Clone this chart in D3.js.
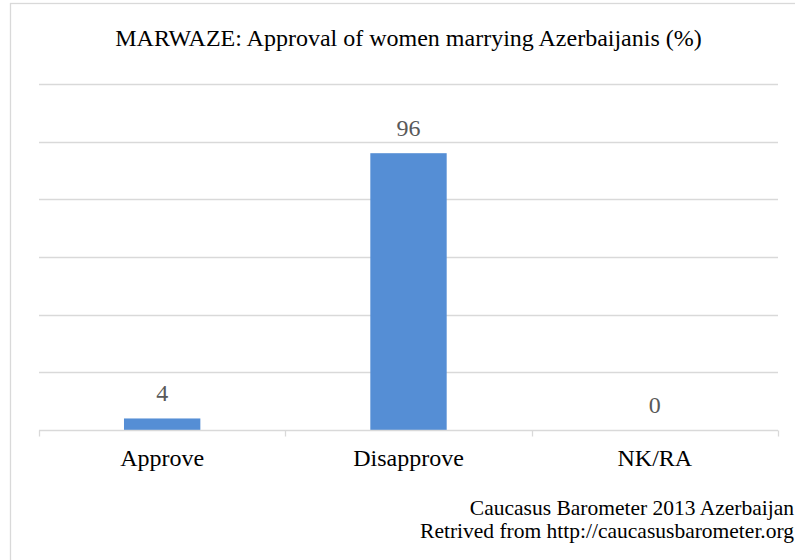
<!DOCTYPE html>
<html>
<head>
<meta charset="utf-8">
<script src="https://cdn.jsdelivr.net/npm/d3@7"></script>
<style>
  body { margin: 0; background: #fff; }
</style>
</head>
<body>
<div id="chart"></div>
<script>
// data
const categories = ["Approve", "Disapprove", "NK/RA"];
const values = [4, 96, 0];
const gridTicks = [0, 20, 40, 60, 80, 100, 120];
const title = "MARWAZE: Approval of women marrying Azerbaijanis (%)";
const sourceLines = ["Caucasus Barometer 2013 Azerbaijan", "Retrived from http://caucasusbarometer.org"];

const width = 795, height = 560;
const margin = { left: 39, right: 17, top: 84, bottom: 130 };
const font = "'Liberation Serif'";

const svg = d3.select("#chart")
    .append("svg")
    .attr("width", width)
    .attr("height", height)
    .style("display", "block");

// outer chart frame (only left + top edges visible in the crop)
svg.append("rect")
    .attr("x", 10.5)
    .attr("y", 3.5)
    .attr("width", 900)
    .attr("height", 700)
    .attr("fill", "#fff")
    .attr("stroke", "#d9d9d9")
    .attr("stroke-width", 1.3);

const x = d3.scaleBand()
    .domain(categories)
    .range([margin.left, width - margin.right])
    .paddingInner(0.69)
    .paddingOuter(0.345);

const y = d3.scaleLinear()
    .domain([0, 120])
    .range([430, margin.top]);

// gridlines
svg.append("g")
    .selectAll("line")
    .data(gridTicks.slice(1))
    .join("line")
    .attr("x1", margin.left)
    .attr("x2", width - margin.right)
    .attr("y1", d => Math.round(y(d)) + 0.5)
    .attr("y2", d => Math.round(y(d)) + 0.5)
    .attr("stroke", "#d9d9d9")
    .attr("stroke-width", 1.3);

// bars
svg.append("g")
    .selectAll("rect")
    .data(values)
    .join("rect")
    .attr("x", (d, i) => x(categories[i]))
    .attr("width", x.bandwidth())
    .attr("y", d => y(d))
    .attr("height", d => y(0) - y(d))
    .attr("fill", "#558ed5");

// x axis: baseline with ticks at the category boundaries
const step = x.step();
const edges = d3.range(categories.length + 1).map(i => margin.left + i * step);
const axis = svg.append("g").attr("transform", "translate(0," + (Math.round(y(0)) + 0.5) + ")");
axis.append("line")
    .attr("x1", margin.left)
    .attr("x2", width - margin.right)
    .attr("stroke", "#d9d9d9")
    .attr("stroke-width", 1.3);
axis.selectAll(".tick")
    .data(edges)
    .join("line")
    .attr("class", "tick")
    .attr("x1", d => Math.round(d) + 0.5)
    .attr("x2", d => Math.round(d) + 0.5)
    .attr("y1", 0)
    .attr("y2", 6)
    .attr("stroke", "#d9d9d9")
    .attr("stroke-width", 1.3);

// category labels
svg.append("g")
    .selectAll("text")
    .data(categories)
    .join("text")
    .attr("x", d => x(d) + x.bandwidth() / 2)
    .attr("y", 466)
    .attr("text-anchor", "middle")
    .style("font-family", font)
    .style("font-size", "24px")
    .attr("fill", "#000")
    .text(d => d);

// value labels
svg.append("g")
    .selectAll("text")
    .data(values)
    .join("text")
    .attr("x", (d, i) => x(categories[i]) + x.bandwidth() / 2)
    .attr("y", d => y(d) - 17)
    .attr("text-anchor", "middle")
    .style("font-family", font)
    .style("font-size", "24px")
    .attr("fill", "#595959")
    .text(d => d);

// title
svg.append("text")
    .attr("x", (margin.left + width - margin.right) / 2)
    .attr("y", 46)
    .attr("text-anchor", "middle")
    .style("font-family", font)
    .style("font-size", "24px")
    .attr("fill", "#000")
    .text(title);

// source note
svg.append("g")
    .selectAll("text")
    .data(sourceLines)
    .join("text")
    .attr("x", 794)
    .attr("y", (d, i) => 515 + i * 23)
    .attr("text-anchor", "end")
    .style("font-family", font)
    .style("font-size", "21.5px")
    .attr("fill", "#000")
    .text(d => d);
</script>
</body>
</html>
